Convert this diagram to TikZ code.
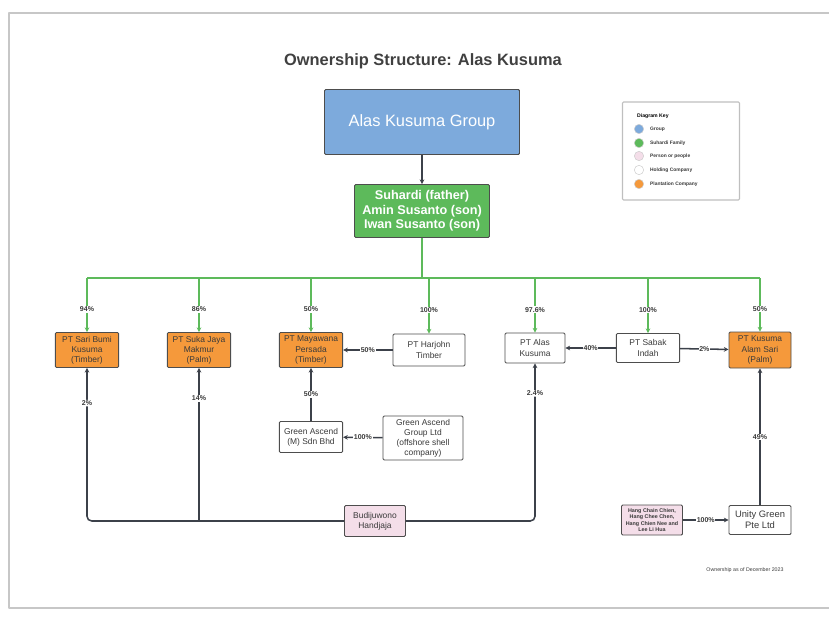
\documentclass[tikz,border=0pt]{standalone}
\usepackage{fontspec}
\setmainfont{Liberation Sans}
\usetikzlibrary{arrows.meta}
\definecolor{groupblue}{HTML}{7DAADC}
\definecolor{famgreen}{HTML}{5DBA5B}
\definecolor{plantorange}{HTML}{F5993B}
\definecolor{personpink}{HTML}{F4DEE9}
\definecolor{ownline}{HTML}{3C414A}
\definecolor{boxline}{HTML}{4D4D4D}
\definecolor{txt}{HTML}{3A3A3A}
\begin{document}
\begin{tikzpicture}[x=0.03cm,y=-0.03cm,
	box/.style={draw=boxline,line width=0.8pt,rounded corners=1pt,align=center,text=txt,font=\fontsize{7.2}{8.6}\selectfont,inner sep=1pt,minimum width=1.9cm,minimum height=0.93cm},
	plant/.style={box,fill=plantorange,minimum height=1.05cm},
	hold/.style={box,fill=white},
	person/.style={box,fill=personpink},
	pct/.style={fill=white,inner sep=0.6pt,font=\bfseries\fontsize{6}{7}\selectfont,text=txt},
	own/.style={draw=ownline,line width=1.3pt,-{Stealth[length=4pt,width=4pt]}},
	fam/.style={draw=famgreen,line width=1.3pt}]
	\useasboundingbox (0,0) rectangle (829,619);
	\draw[black!22,line width=2pt,line join=round] (829,13) -- (9,13) -- (9,608) -- (829,608);
	% heading and top of the tree
	\node[font=\bfseries\fontsize{14}{16}\selectfont,text=black!75] (title) at (423,61) {Ownership Structure: Alas Kusuma};
	\node[box,fill=groupblue,text=white,font=\fontsize{14}{16}\selectfont,minimum width=5.85cm,minimum height=1.95cm] (grp) at (422,122) {Alas Kusuma Group};
	\node[box,fill=famgreen,text=white,font=\bfseries\fontsize{10.8}{12.4}\selectfont,minimum width=4.05cm,minimum height=1.59cm] (fam) at (422,211) {Suhardi (father)\\Amin Susanto (son)\\Iwan Susanto (son)};
	\draw[own] (grp) -- (fam);
	% companies
	\node[plant] (sari) at (87,350) {PT Sari Bumi\\Kusuma\\(Timber)};
	\node[plant] (suka) at (199,350) {PT Suka Jaya\\Makmur\\(Palm)};
	\node[plant] (maya) at (311,350) {PT Mayawana\\Persada\\(Timber)};
	\node[hold,minimum width=2.16cm,minimum height=0.96cm] (harj) at (429,350) {PT Harjohn\\Timber};
	\node[hold,minimum width=1.8cm,minimum height=0.9cm] (alas) at (535,348) {PT Alas\\Kusuma};
	\node[hold,minimum height=0.87cm] (sabak) at (648,348) {PT Sabak\\Indah};
	\node[plant,minimum width=1.86cm,minimum height=1.08cm] (kas) at (760,350) {PT Kusuma\\Alam Sari\\(Palm)};
	\node[hold] (gam) at (311,437) {Green Ascend\\(M) Sdn Bhd};
	\node[hold,minimum width=2.4cm,minimum height=1.32cm] (gag) at (423,438) {Green Ascend\\Group Ltd\\(offshore shell\\company)};
	\node[person,minimum width=1.83cm] (budi) at (375,521) {Budijuwono\\Handjaja};
	\node[person,minimum width=1.83cm,minimum height=0.9cm,font=\bfseries\fontsize{4.6}{5.4}\selectfont] (hang) at (652,520) {Hang Chain Chien,\\Hang Chee Chen,\\Hang Chien Nee and\\Lee Li Hua};
	\node[hold,minimum width=1.86cm,minimum height=0.87cm,font=\fontsize{8}{9.4}\selectfont] (unity) at (760,520) {Unity Green\\Pte Ltd};
	% family holdings
	\coordinate (bus) at (422,278);
	\draw[fam] (fam) -- (bus);
	\draw[fam] (sari.north |- bus) -- (kas.north |- bus);
	\foreach \n/\p in {sari/94,suka/86,maya/50,harj/100,alas/97.6,sabak/100,kas/50}
		\draw[fam,-{Stealth[length=4pt,width=4pt]}] (\n.north |- bus) -- node[pct,pos=0.58]{\p\%} (\n.north);
	% other holdings
	\draw[own] (harj) -- node[pct]{50\%} (maya);
	\draw[own] (gam) -- node[pct]{50\%} (maya);
	\draw[own] (gag) -- node[pct]{100\%} (gam);
	\draw[own] (sabak) -- node[pct]{40\%} (alas);
	\draw[own] (sabak) -- node[pct]{2\%} (kas);
	\draw[own] (hang) -- node[pct]{100\%} (unity);
	\draw[own] (unity) -- node[pct]{49\%} (kas);
	\draw[own,rounded corners=4pt] (budi.west) -| node[pct,pos=0.885]{2\%} (sari.south);
	\draw[own] (suka.south |- budi.west) -- node[pct,pos=0.8]{14\%} (suka.south);
	\draw[own,rounded corners=4pt] (budi.east) -| node[pct,pos=0.905]{2.4\%} (alas.south);
	% key
	\node[draw=black!25,line width=1pt,rounded corners=1pt,minimum width=3.51cm,minimum height=2.94cm] (key) at (681,151) {};
	\node[anchor=west,font=\bfseries\fontsize{4.4}{5}\selectfont] (keyhd) at (633,116) {Diagram Key};
	\foreach \c/\t/\y [count=\i] in {groupblue/Group/129,famgreen/Suhardi Family/143,personpink/Person or people/156,white/Holding Company/170,plantorange/Plantation Company/184}{
		\node[circle,draw=black!20,fill=\c,minimum size=0.28cm,inner sep=0pt] (k\i) at (639,\y) {};
		\node[anchor=west,font=\bfseries\fontsize{4.2}{5}\selectfont,text=txt] (kt\i) at (646,\y) {\t};
	}
	\node[font=\fontsize{4.5}{5}\selectfont,text=txt] (note) at (745,570) {Ownership as of December 2023};
\end{tikzpicture}
\end{document}
